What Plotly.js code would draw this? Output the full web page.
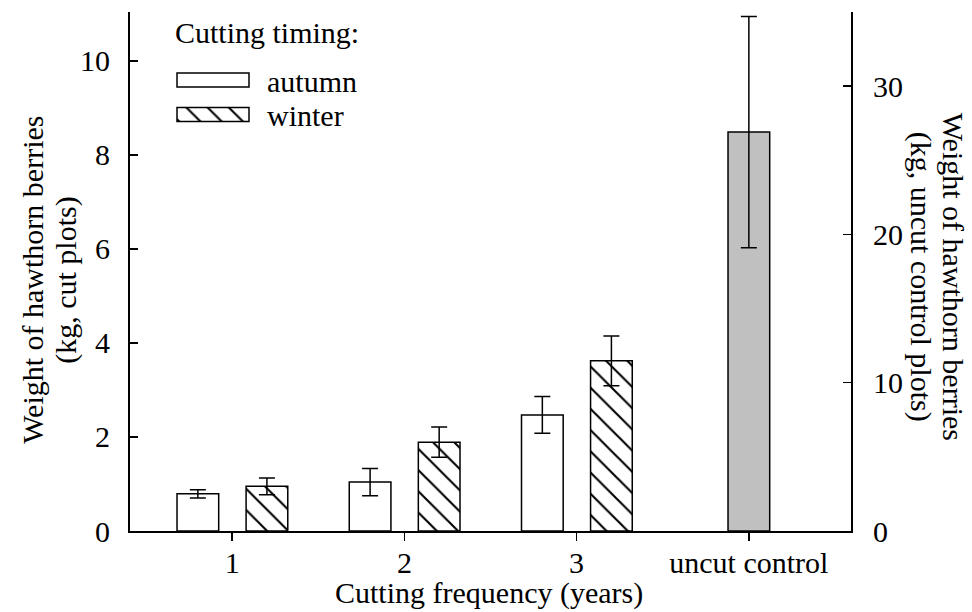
<!DOCTYPE html>
<html>
<head>
<meta charset="utf-8">
<script src="https://cdn.plot.ly/plotly-3.0.1.min.js"></script>
<style>html,body{margin:0;padding:0;background:#fff;}#chart{width:972px;height:612px;}</style>
</head>
<body>
<div id="chart"></div>
<script>
// Data
var categories = ['1', '2', '3', 'uncut control'];
var cutCategories = ['1', '2', '3'];
var autumnValues = [0.79, 1.04, 2.47];
var autumnErrors = [0.09, 0.29, 0.39];
var winterValues = [0.95, 1.89, 3.62];
var winterErrors = [0.18, 0.32, 0.53];
var controlCategory = ['uncut control'];
var controlValues = [26.9];
var controlErrors = [7.8];
var xTitle = 'Cutting frequency (years)';
var leftTitleLines = ['Weight of hawthorn berries', '(kg, cut plots)'];
var rightTitleLines = ['Weight of hawthorn berries', '(kg, uncut control plots)'];

var FONT = 'Liberation Serif';
var FS = 30;
var errStyle = {type: 'data', visible: true, color: '#000', thickness: 1.5, width: 8};

var traces = [
  {
    type: 'bar', name: 'autumn', x: cutCategories, y: autumnValues,
    error_y: Object.assign({array: autumnErrors}, errStyle),
    width: 0.242, offset: -0.32,
    marker: {color: '#ffffff', line: {color: '#000', width: 1.5}},
    xaxis: 'x', yaxis: 'y'
  },
  {
    type: 'bar', name: 'winter', x: cutCategories, y: winterValues,
    error_y: Object.assign({array: winterErrors}, errStyle),
    width: 0.242, offset: 0.081,
    marker: {color: '#ffffff', line: {color: '#000', width: 1.5},
             pattern: {shape: '\\', size: 15, solidity: 0.14, fgcolor: '#000', bgcolor: '#ffffff'}},
    xaxis: 'x', yaxis: 'y'
  },
  {
    type: 'bar', name: 'uncut control', x: controlCategory, y: controlValues,
    error_y: Object.assign({array: controlErrors}, errStyle),
    width: 0.242, offset: -0.121, showlegend: false,
    marker: {color: '#c0c0c0', line: {color: '#000', width: 1.5}},
    xaxis: 'x', yaxis: 'y2'
  }
];

function titleAnn(text, xPaper, yPaper, angle, xa, ya) {
  return {
    text: text, textangle: angle, xref: 'paper', yref: 'paper', x: xPaper, y: yPaper,
    xanchor: xa || 'center', yanchor: ya || 'middle', showarrow: false, borderpad: 0,
    font: {family: FONT, size: FS, color: '#000'}
  };
}

var layout = {
  width: 972, height: 612,
  margin: {l: 130, r: 121, t: 12, b: 81},
  paper_bgcolor: '#fff', plot_bgcolor: '#fff',
  font: {family: FONT, size: FS, color: '#000'},
  barmode: 'overlay',
  showlegend: true,
  legend: {
    x: 0.055, y: 1.0, xanchor: 'left', yanchor: 'top',
    bgcolor: 'rgba(0,0,0,0)', borderwidth: 0,
    itemwidth: 80,
    title: {text: 'Cutting timing:', font: {family: FONT, size: FS}},
    font: {family: FONT, size: FS}
  },
  xaxis: {
    type: 'category', categoryorder: 'array', categoryarray: categories,
    range: [-0.593, 3.593],
    showline: true, linecolor: '#000', linewidth: 2,
    ticks: 'outside', ticklen: 8, tickwidth: 1.5, tickcolor: '#000',
    showgrid: false, zeroline: false,
    tickfont: {family: FONT, size: FS},
    ticklabelstandoff: -4
  },
  yaxis: {
    range: [0, 11.04], tickvals: [0, 2, 4, 6, 8, 10],
    showline: true, linecolor: '#000', linewidth: 2,
    ticks: 'inside', ticklen: 8, tickwidth: 1.5, tickcolor: '#000',
    showgrid: false, zeroline: false,
    tickfont: {family: FONT, size: FS},
    ticklabelstandoff: 12
  },
  yaxis2: {
    overlaying: 'y', side: 'right', anchor: 'x',
    range: [0, 35], tickvals: [0, 10, 20, 30],
    showline: true, linecolor: '#000', linewidth: 2,
    ticks: 'inside', ticklen: 8, tickwidth: 1.5, tickcolor: '#000',
    showgrid: false, zeroline: false,
    tickfont: {family: FONT, size: FS},
    ticklabelstandoff: 14
  },
  annotations: [
    titleAnn(xTitle, 0.4983, -0.1545, 0, 'center', 'bottom'),
    titleAnn(leftTitleLines[0], -0.1345, 0.484, -90),
    titleAnn(leftTitleLines[1], -0.0888, 0.484, -90),
    titleAnn(rightTitleLines[0], 1.1415, 0.49, 90),
    titleAnn(rightTitleLines[1], 1.0971, 0.49, 90)
  ]
};

function addTranslate(el, dx, dy) {
  var t = el.getAttribute('transform') || '';
  el.setAttribute('transform', (t + ' translate(' + dx + ',' + dy + ')').trim());
}

Plotly.newPlot('chart', traces, layout, {staticPlot: true}).then(function (gd) {
  var legend = gd.querySelector('.legend');
  if (!legend) return;
  // find the fill used by the hatched bars, to reuse it in the legend swatch
  var barFill = null;
  gd.querySelectorAll('.barlayer .point path').forEach(function (bp) {
    var f = bp.style.fill || '';
    if (!barFill && f.indexOf('url') >= 0) barFill = f;
  });
  var title = legend.querySelector('.legendtitletext');
  if (title) {
    var r = title.getBoundingClientRect();
    addTranslate(title, 175 - r.left, 32 - (r.top + r.height / 2));
  }
  var rowCenters = [80, 114.5];
  var items = legend.querySelectorAll('.traces');
  items.forEach(function (g, i) {
    var p = g.querySelector('.legendpoints path');
    if (p) {
      p.setAttribute('d', 'M36,7H-36V-7H36Z');
      var pr = p.getBoundingClientRect();
      var L = -36 + (177 - pr.left);
      p.setAttribute('d', 'M' + (L + 72) + ',7H' + L + 'V-7H' + (L + 72) + 'Z');
      if (barFill && (p.style.fill || '').indexOf('url') >= 0) {
        p.style.fill = barFill;
      }
    }
    var txt = g.querySelector('.legendtext');
    if (txt) {
      var tr = txt.getBoundingClientRect();
      addTranslate(txt, 267 - tr.left, 0);
    }
    if (p) {
      var pr2 = p.getBoundingClientRect();
      var dy = rowCenters[i] - (pr2.top + pr2.height / 2);
      addTranslate(g, 0, dy);
    }
  });
});
</script>
</body>
</html>
